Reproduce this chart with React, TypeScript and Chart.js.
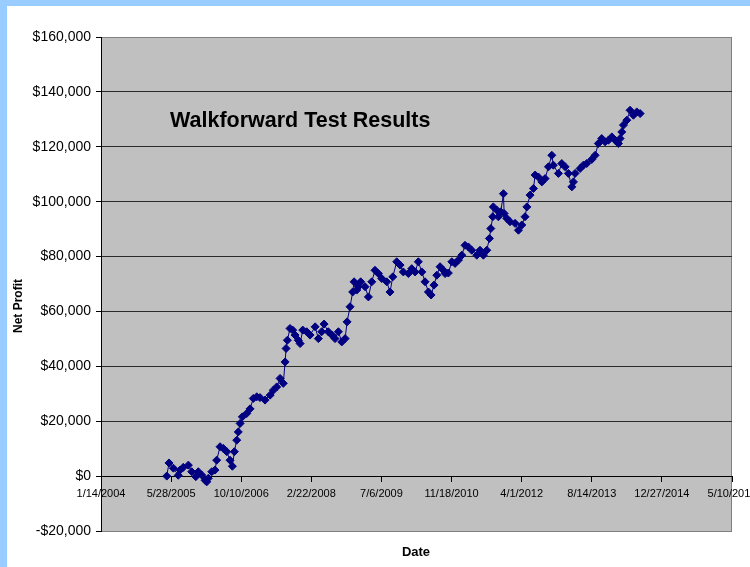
import React, { useEffect, useRef } from 'react';
import { Chart, registerables } from 'chart.js';

Chart.register(...registerables);

// Dates as Excel serial day numbers (38000 = 1/14/2004)
const dates: number[] = [
  38469, 38485, 38516, 38551, 38564, 38587, 38623, 38647, 38676, 38694,
  38718, 38742, 38754, 38765, 38790, 38813, 38825, 38849, 38872, 38897,
  38920, 38937, 38951, 38968, 38979, 38992, 39008, 39039, 39063, 39086,
  39111, 39134, 39170, 39206, 39229, 39253, 39277, 39300, 39313, 39320,
  39329, 39348, 39367, 39384, 39407, 39420, 39439, 39467, 39491, 39527,
  39550, 39574, 39591, 39621, 39646, 39669, 39693, 39717, 39741, 39755,
  39776, 39795, 39805, 39824, 39835, 39852, 39883, 39907, 39931, 39954,
  39978, 40002, 40038, 40061, 40081, 40109, 40133, 40156, 40192, 40216,
  40240, 40263, 40288, 40311, 40335, 40354, 40375, 40395, 40418, 40442,
  40454, 40477, 40502, 40525, 40549, 40573, 40596, 40620, 40644, 40680,
  40703, 40727, 40751, 40770, 40780, 40794, 40798, 40823, 40834, 40851,
  40870, 40875, 40894, 40917, 40953, 40977, 41001, 41024, 41037, 41060,
  41084, 41096, 41119, 41144, 41167, 41191, 41215, 41226, 41262, 41286,
  41310, 41333, 41358, 41369, 41381, 41417, 41440, 41464, 41500, 41524,
  41547, 41571, 41595, 41619, 41643, 41666, 41690, 41702, 41714, 41726,
  41750, 41773, 41797, 41821, 41845,
];

const netProfit: number[] = [
  0, 4800, 2900, 300, 2200, 3200, 4000, 1600, -200, 1600,
  400, -1500, -2100, -800, 1600, 2200, 5800, 10700, 10100, 8900,
  5800, 3600, 8900, 13100, 16100, 19200, 21600, 22800, 24500, 28300,
  28900, 28600, 27700, 29500, 31300, 32500, 35600, 33800, 41600, 46500,
  49500, 53800, 53200, 51400, 49500, 48300, 53200, 52600, 51400, 54400,
  50100, 52600, 55400, 52600, 51400, 50100, 52600, 48900, 50100, 56200,
  61700, 67100, 70800, 67800, 69000, 70800, 69000, 65300, 70800, 75000,
  73800, 72000, 70800, 67100, 72600, 78100, 76900, 74400, 73800, 75600,
  74400, 78100, 74400, 70800, 67100, 66000, 69600, 73200, 76300, 75000,
  73800, 74000, 78100, 77500, 78700, 80500, 84100, 83500, 82300, 80500,
  82300, 80500, 82300, 86600, 90200, 94500, 98100, 96900, 94500, 96300,
  102900, 95700, 93900, 92700, 92100, 89600, 91500, 94500, 98100, 102400,
  104800, 109700, 109000, 107200, 108400, 112700, 116900, 113300, 110300, 113900,
  112700, 110300, 105400, 107200, 110300, 112100, 113300, 113900, 115400, 116900,
  121200, 123000, 121800, 122400, 123600, 122400, 121200, 123000, 125400, 127900,
  129700, 133300, 131500, 132700, 132100,
];

const xTickStart = 38000; // 1/14/2004
const xTickEnd = 42500; // 5/10/2016
const xTickStep = 500;
const yMin = -20000;
const yMax = 160000;
const yStep = 20000;

const chartTitle = 'Walkforward Test Results';
const xTitle = 'Date';
const yTitle = 'Net Profit';

const FONT = "'Liberation Sans', Arial, sans-serif";

function serialToLabel(serial: number): string {
  const ms = Date.UTC(1899, 11, 30) + Math.round(serial) * 86400000;
  const d = new Date(ms);
  return `${d.getUTCMonth() + 1}/${d.getUTCDate()}/${d.getUTCFullYear()}`;
}

function money(v: number): string {
  const s = Math.abs(v).toLocaleString('en-US');
  return (v < 0 ? '-$' : '$') + s;
}

const decorPlugin = {
  id: 'decor',
  beforeDraw(chart: any) {
    const { ctx, chartArea: a } = chart;
    ctx.save();
    ctx.fillStyle = '#C0C0C0';
    ctx.fillRect(a.left, a.top, a.right - a.left, a.bottom - a.top);
    ctx.strokeStyle = '#808080';
    ctx.lineWidth = 1;
    ctx.strokeRect(Math.round(a.left) + 0.5, Math.round(a.top) + 0.5,
      Math.round(a.right - a.left) - 1, Math.round(a.bottom - a.top));
    ctx.restore();
  },
  afterDraw(chart: any) {
    const { ctx } = chart;
    ctx.save();
    ctx.fillStyle = '#000';
    ctx.textBaseline = 'alphabetic';
    ctx.textAlign = 'left';
    ctx.font = `bold 21.5px ${FONT}`;
    ctx.fillText(chartTitle, 163, 121);

    ctx.textAlign = 'center';
    ctx.textBaseline = 'middle';
    ctx.font = `bold 13px ${FONT}`;
    ctx.fillText(xTitle, 409, 546);

    ctx.font = `bold 12px ${FONT}`;
    ctx.translate(12, 300);
    ctx.rotate(-Math.PI / 2);
    ctx.fillText(yTitle, 0, 0);
    ctx.restore();
  },
};

export default function App() {
  const canvasRef = useRef<HTMLCanvasElement | null>(null);

  useEffect(() => {
    if (!canvasRef.current) return;
    const chart = new Chart(canvasRef.current, {
      type: 'line',
      data: {
        datasets: [
          {
            data: dates.map((d, i) => ({ x: d, y: netProfit[i] })),
            borderColor: '#000080',
            borderWidth: 1,
            backgroundColor: '#000080',
            pointStyle: 'rectRot',
            pointRadius: 4,
            pointBackgroundColor: '#000080',
            pointBorderColor: '#000080',
            pointBorderWidth: 1,
            tension: 0,
            fill: false,
          },
        ],
      },
      options: {
        responsive: false,
        animation: false,
        events: [],
        layout: { padding: { left: 0, top: 31, right: 18, bottom: 36 } },
        plugins: { legend: { display: false }, tooltip: { enabled: false }, title: { display: false } },
        scales: {
          x: {
            type: 'linear',
            position: { y: 0 },
            min: xTickStart,
            max: xTickEnd,
            ticks: {
              stepSize: xTickStep,
              autoSkip: false,
              maxRotation: 0,
              minRotation: 0,
              color: '#000',
              padding: 6,
              font: { family: FONT, size: 11 },
              callback: (v: any) => serialToLabel(Number(v)),
            },
            grid: { drawOnChartArea: false, drawTicks: true, tickLength: 5, color: '#000' },
            border: { display: true, color: '#000', width: 1 },
            afterFit: (s: any) => {
              s.paddingLeft = 0;
              s.paddingRight = 0;
            },
          } as any,
          y: {
            type: 'linear',
            position: 'left',
            min: yMin,
            max: yMax,
            ticks: {
              stepSize: yStep,
              color: '#000',
              padding: 5,
              font: { family: FONT, size: 14 },
              callback: (v: any) => money(Number(v)),
            },
            grid: {
              color: (c: any) =>
                c.tick && (c.tick.value === yMax || c.tick.value === yMin) ? '#808080' : '#2a2a2a',
              tickColor: '#000',
              tickLength: 5,
              drawTicks: true,
            },
            border: { display: true, color: '#000', width: 1 },
            afterFit: (s: any) => {
              s.width = 94;
            },
          },
        },
      },
      plugins: [decorPlugin],
    });
    return () => chart.destroy();
  }, []);

  return (
    <div
      style={{
        position: 'fixed',
        left: 0,
        top: 0,
        width: 750,
        height: 567,
        boxSizing: 'border-box',
        borderTop: '6px solid #99CCFF',
        borderLeft: '7px solid #99CCFF',
        background: '#FFFFFF',
        overflow: 'hidden',
      }}
    >
      <canvas ref={canvasRef} width={743} height={561} style={{ display: 'block' }} />
    </div>
  );
}
